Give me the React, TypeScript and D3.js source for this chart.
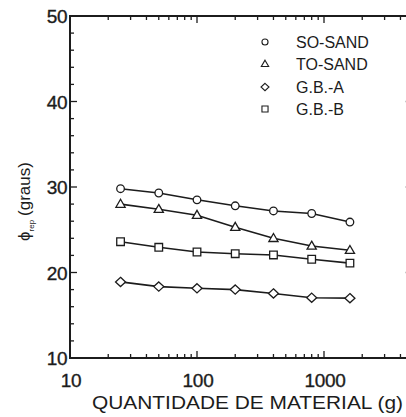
import React from "react";
import * as d3 from "d3";

const amounts = [25, 50, 100, 200, 400, 800, 1600];
const soSand = [29.8, 29.3, 28.5, 27.8, 27.2, 26.9, 25.9];
const toSand = [28.0, 27.4, 26.7, 25.3, 24.0, 23.1, 22.6];
const gbA = [18.9, 18.35, 18.15, 18.0, 17.55, 17.05, 17.0];
const gbB = [23.6, 22.95, 22.4, 22.2, 22.05, 21.55, 21.1];
const seriesNames = ["SO-SAND", "TO-SAND", "G.B.-A", "G.B.-B"];
const seriesShapes = ["circle", "triangle", "diamond", "square"];
const yTicks = [10, 20, 30, 40, 50];
const xTickLabels = [10, 100, 1000];

const W = 406;
const H = 417;
const FONT = "'Liberation Sans', Arial, Helvetica, sans-serif";
const INK = "#1c1c1c";

function shapePath(shape: string, s: number): string {
  if (shape === "circle") {
    const r = 3.8 * s;
    return `M${-r},0A${r},${r} 0 1,0 ${r},0A${r},${r} 0 1,0 ${-r},0Z`;
  }
  if (shape === "square") {
    const h = 3.8 * s;
    return `M${-h},${-h}H${h}V${h}H${-h}Z`;
  }
  if (shape === "triangle") {
    const w = 4.6 * s;
    const up = 4.8 * s;
    const dn = 3.2 * s;
    return `M0,${-up}L${w},${dn}L${-w},${dn}Z`;
  }
  const hw = 5 * s;
  const hh = 4.6 * s;
  return `M0,${-hh}L${hw},0L0,${hh}L${-hw},0Z`;
}

export default function App() {
  const x = d3.scaleLog().domain([10, 5000]).range([70, 70 + 127 * Math.log10(500)]);
  const y = d3.scaleLinear().domain([10, 50]).range([358, 16]);
  const [x0, x1] = x.range();
  const [yb, yt] = y.range();

  const series = [soSand, toSand, gbA, gbB];
  const line = d3
    .line<number>()
    .x((_, i) => x(amounts[i]))
    .y((d) => y(d));

  const xMinor: number[] = [];
  for (let dec = 10; dec < 5000; dec *= 10) {
    for (let k = 2; k <= 9; k++) {
      const v = dec * k;
      if (v < 5000) xMinor.push(v);
    }
  }
  const xMajor = [10, 100, 1000];
  const yMinor = d3.range(10, 50.01, 2).filter((v) => v % 10 !== 0);

  const legendYs = [42, 64, 87, 109];

  return (
    <svg
      width={W}
      height={H}
      style={{ position: "absolute", left: 0, top: 0, background: "#fff" }}
    >
      <rect x={0} y={0} width={W} height={H} fill="#fff" />
      <g stroke={INK} strokeWidth={1.3}>
        {yTicks.map((v) => (
          <g key={"yt" + v}>
            <line x1={x0} x2={x0 + 7} y1={y(v)} y2={y(v)} />
            <line x1={x1} x2={x1 - 7} y1={y(v)} y2={y(v)} />
          </g>
        ))}
        {yMinor.map((v) => (
          <g key={"ym" + v}>
            <line x1={x0} x2={x0 + 4} y1={y(v)} y2={y(v)} />
            <line x1={x1} x2={x1 - 4} y1={y(v)} y2={y(v)} />
          </g>
        ))}
        {xMajor.map((v) => (
          <g key={"xt" + v}>
            <line x1={x(v)} x2={x(v)} y1={yb} y2={yb - 7} />
            <line x1={x(v)} x2={x(v)} y1={yt} y2={yt + 7} />
          </g>
        ))}
        {xMinor.map((v) => (
          <g key={"xm" + v}>
            <line x1={x(v)} x2={x(v)} y1={yb} y2={yb - 4} />
            <line x1={x(v)} x2={x(v)} y1={yt} y2={yt + 4} />
          </g>
        ))}
      </g>
      <rect
        x={x0}
        y={yt}
        width={x1 - x0}
        height={yb - yt}
        fill="none"
        stroke={INK}
        strokeWidth={2}
      />
      {yTicks.map((v) => (
        <text
          key={"yl" + v}
          x={x0 - 3}
          y={y(v) + 7}
          textAnchor="end"
          fontFamily={FONT}
          fontSize={19}
          fill={INK}
          stroke={INK}
          strokeWidth={0.35}
          letterSpacing={-0.5}
        >
          {v}
        </text>
      ))}
      {xTickLabels.map((v) => (
        <text
          key={"xl" + v}
          x={x(v) + 1}
          y={387}
          textAnchor="middle"
          fontFamily={FONT}
          fontSize={19}
          fill={INK}
          stroke={INK}
          strokeWidth={0.35}
          letterSpacing={-0.3}
        >
          {v}
        </text>
      ))}
      <text
        x={92}
        y={409}
        fontFamily={FONT}
        fontSize={19}
        fill={INK}
        textLength={311}
        lengthAdjust="spacingAndGlyphs"
      >
        QUANTIDADE DE MATERIAL (g)
      </text>
      <text
        transform="translate(30,241) rotate(-90)"
        fontFamily={FONT}
        fontSize={17}
        fill={INK}
      >
        ϕ
        <tspan fontSize={8} dy={4}>
          rep
        </tspan>
        <tspan dy={-4} dx={4}>
          (graus)
        </tspan>
      </text>
      {series.map((vals, si) => (
        <g key={"s" + si}>
          <path d={line(vals) || ""} fill="none" stroke={INK} strokeWidth={1.6} />
          {vals.map((v, i) => (
            <path
              key={i}
              d={shapePath(seriesShapes[si], 1)}
              transform={`translate(${x(amounts[i])},${y(v)})`}
              fill="#fff"
              stroke={INK}
              strokeWidth={1.3}
            />
          ))}
        </g>
      ))}
      {seriesNames.map((name, i) => (
        <g key={"lg" + i}>
          <path
            d={shapePath(seriesShapes[i], 0.8)}
            transform={`translate(265,${legendYs[i]})`}
            fill="#fff"
            stroke={INK}
            strokeWidth={1.1}
          />
          <text
            x={296}
            y={legendYs[i] + 5.5}
            fontFamily={FONT}
            fontSize={16}
            fill={INK}
          >
            {name}
          </text>
        </g>
      ))}
    </svg>
  );
}
